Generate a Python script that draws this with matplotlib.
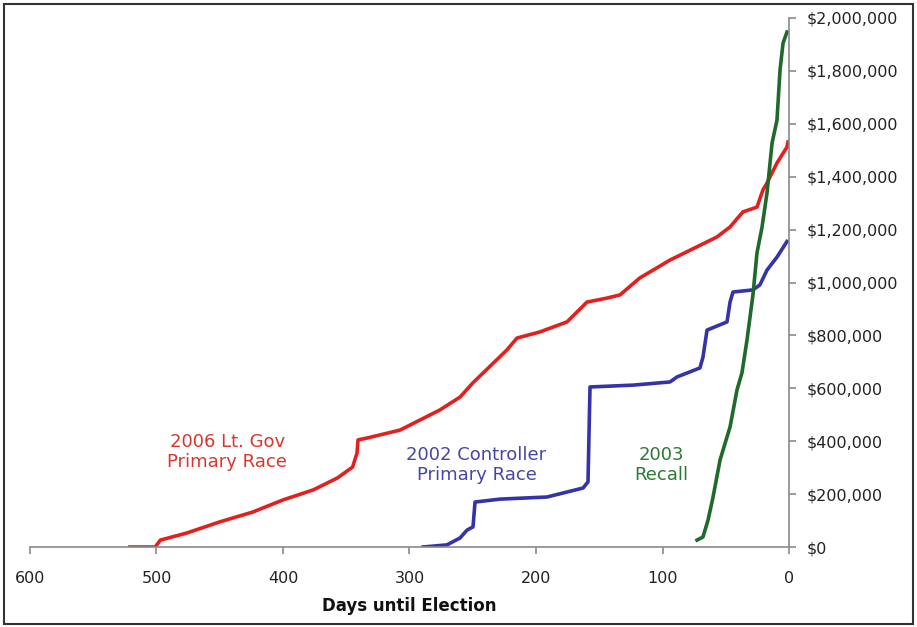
import matplotlib
matplotlib.use("Agg")
import matplotlib.pyplot as plt
from matplotlib.ticker import FuncFormatter
from matplotlib.patches import Rectangle

# ---- data (days until election, cumulative $) ----
ltgov_days = [521, 501, 497, 476, 450, 424, 400, 376, 357, 345, 341.5, 340.7, 333.6, 307.5,
              276, 260, 250, 223, 215, 197, 175.5, 159.7, 144, 133.6, 118, 94,
              57, 46.6, 36.4, 25.3, 20.6, 17.4, 9.5, 1.6, 0.8]
ltgov_vals = [0, 0, 26000, 53000, 95000, 132000, 178000, 216000, 261000, 302000, 355000, 405000,
              412000, 442000, 518000, 567000, 620000, 745000, 790000, 813000, 851000, 926000,
              941000, 953000, 1017000, 1085000, 1172000, 1210000, 1267000, 1285000,
              1350000, 1376000, 1452000, 1512000, 1531000]

ctrl_days = [289.3, 270.4, 260.1, 254.5, 249.8, 248.2, 228.5, 191.3, 162.8, 158.9, 157.3,
             123.3, 94.1, 88.5, 70.4, 68, 64.8, 49, 46.6, 44.3, 28.5, 23, 17.4, 9.5, 1.6]
ctrl_vals = [0, 8000, 34000, 64000, 76000, 170000, 181000, 189000, 223000, 246000, 605000,
             612000, 624000, 643000, 677000, 718000, 820000, 851000, 926000, 964000, 972000,
             991000, 1047000, 1096000, 1155000]

recall_days = [72.7, 68, 64, 60.2, 54.5, 46.6, 41.1, 37.2, 33.2, 28.5, 25.3, 21.3, 17.4,
               13.4, 9.5, 7.1, 4.7, 1.6]
recall_vals = [26000, 38000, 102000, 185000, 329000, 454000, 594000, 658000, 783000, 953000,
               1112000, 1210000, 1338000, 1527000, 1614000, 1803000, 1905000, 1947000]

x_ticks = [600, 500, 400, 300, 200, 100, 0]
y_ticks = [0, 200000, 400000, 600000, 800000, 1000000, 1200000, 1400000, 1600000, 1800000, 2000000]

fig = plt.figure(figsize=(9.17, 6.27), dpi=100)
ax = fig.add_axes([30 / 917, 80 / 627, (789 - 30) / 917, (547 - 18) / 627])

ax.plot(ltgov_days, ltgov_vals, color="#e3201e", lw=2.6, solid_joinstyle="round")
ax.plot(ctrl_days, ctrl_vals, color="#3434a8", lw=2.6, solid_joinstyle="round")
ax.plot(recall_days, recall_vals, color="#1d6a2a", lw=2.6, solid_joinstyle="round")

ax.set_xlim(600, 0)
ax.set_ylim(0, 2000000)
ax.set_xticks(x_ticks)
ax.set_yticks(y_ticks)
ax.yaxis.tick_right()
ax.yaxis.set_major_formatter(FuncFormatter(lambda v, p: "${:,.0f}".format(v)))

for s in ["top", "left"]:
    ax.spines[s].set_visible(False)
for s in ["right", "bottom"]:
    ax.spines[s].set_color("#8a8a8a")
    ax.spines[s].set_linewidth(1.2)

ax.tick_params(axis="both", direction="out", length=5, width=1.2, color="#8a8a8a",
               labelsize=11.5, labelcolor="#222222")
ax.tick_params(axis="x", pad=12)
ax.tick_params(axis="y", pad=8)
ax.set_xlabel("Days until Election", fontsize=12, fontweight="bold", color="#111111", labelpad=8)

ax.text(444, 359000, "2006 Lt. Gov\nPrimary Race", color="#d8372f", fontsize=13,
        ha="center", va="center", linespacing=1.2)
ax.text(247, 310000, "2002 Controller\nPrimary Race", color="#4646a6", fontsize=13,
        ha="center", va="center", linespacing=1.2)
ax.text(101, 310000, "2003\nRecall", color="#2b7a35", fontsize=13,
        ha="center", va="center", linespacing=1.2)

fig.patches.append(Rectangle((4 / 917, 3 / 627), 909 / 917, 620 / 627, transform=fig.transFigure,
                             fill=False, edgecolor="#333333", linewidth=1.5))

fig.savefig("out.png", dpi=100)
